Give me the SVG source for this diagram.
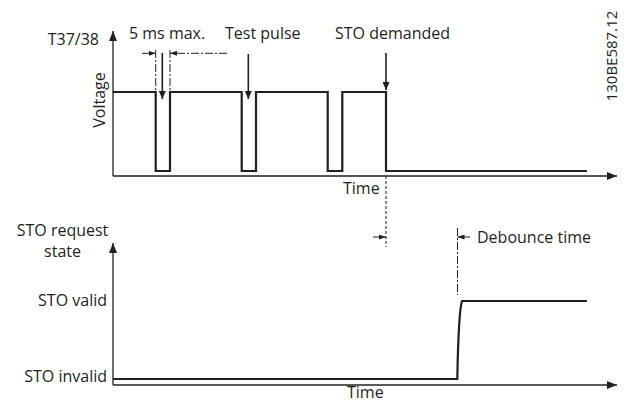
<svg xmlns="http://www.w3.org/2000/svg" width="624" height="403" viewBox="0 0 624 403">
<style>
text{font-family:"Open Sans","Liberation Sans",sans-serif;font-size:16px;fill:#231f20}
.ax{fill:none;stroke:#231f20;stroke-width:1.3}
.sig{fill:none;stroke:#231f20;stroke-width:2.2;stroke-linejoin:miter}
.ar{fill:none;stroke:#231f20;stroke-width:1.6}
.dd{fill:none;stroke:#231f20;stroke-width:1;stroke-dasharray:8 2 2 2}
.da{fill:none;stroke:#231f20;stroke-width:1;stroke-dasharray:3 2}
.sa{fill:none;stroke:#231f20;stroke-width:1}
</style>
<defs>
<marker id="axh" markerUnits="userSpaceOnUse" viewBox="0 0 10 8" refX="10" refY="4" markerWidth="10" markerHeight="8" orient="auto"><path d="M0,0 L10,4 L0,8 z" fill="#231f20"/></marker>
<marker id="pth" markerUnits="userSpaceOnUse" viewBox="0 0 8 7" refX="8" refY="3.5" markerWidth="8" markerHeight="7" orient="auto"><path d="M0,0 L8,3.5 L0,7 z" fill="#231f20"/></marker>
<marker id="smh" markerUnits="userSpaceOnUse" viewBox="0 0 7 5" refX="7" refY="2.5" markerWidth="7" markerHeight="5" orient="auto"><path d="M0,0 L7,2.5 L0,5 z" fill="#231f20"/></marker>
</defs>

<g id="top-chart">
<path class="ax" d="M113,176 V31" marker-end="url(#axh)"/>
<path class="ax" d="M113,176 H617" marker-end="url(#axh)"/>
<path class="sig" d="M113,92 H155.7 V171 H170 V92 H241.7 V171 H256 V92 H327.7 V171 H342.3 V92 H386 V171 H587"/>
<text x="99" y="45" text-anchor="end">T37/38</text>
<text transform="translate(105,100) rotate(-90)" text-anchor="middle">Voltage</text>
<text x="343" y="194">Time</text>
</g>

<g id="bottom-chart">
<path class="ax" d="M113,385 V243" marker-end="url(#axh)"/>
<path class="ax" d="M113,385 H617" marker-end="url(#axh)"/>
<path class="sig" d="M113,379 H457.3 C458,345 458.5,312 462,301 H587"/>
<text x="62.5" y="236" text-anchor="middle">STO request</text>
<text x="62.5" y="257" text-anchor="middle">state</text>
<text x="107" y="306" text-anchor="end">STO valid</text>
<text x="107" y="381.5" text-anchor="end">STO invalid</text>
<text x="347" y="398">Time</text>
</g>

<g id="annotations">
<text x="129" y="39">5 ms max.</text>
<text x="225" y="39">Test pulse</text>
<text x="335" y="39">STO demanded</text>
<text x="477" y="243">Debounce time</text>
<text transform="translate(617,56) rotate(-90)" text-anchor="middle" style="font-size:15px">130BE587.12</text>
</g>

<g id="connectors">
<path class="ar" d="M162.3,53 V99" marker-end="url(#pth)"/>
<path class="ar" d="M248.3,54 V99" marker-end="url(#pth)"/>
<path class="ar" d="M386,53 V90" marker-end="url(#pth)"/>
<path class="dd" d="M155.7,50 V92"/>
<path class="dd" d="M170,50 V92"/>
<path class="sa" d="M142,53.3 H155.7" marker-end="url(#smh)"/>
<path class="sa" d="M177,53.3 H170" marker-end="url(#smh)"/>
<path class="dd" d="M177,53.3 H227"/>
<path class="da" d="M386,176 V247"/>
<path class="sa" d="M373,237 H386" marker-end="url(#smh)"/>
<path class="dd" d="M457.5,228 V295"/>
<path class="sa" d="M470,237 H457.5" marker-end="url(#smh)"/>
</g>
</svg>
